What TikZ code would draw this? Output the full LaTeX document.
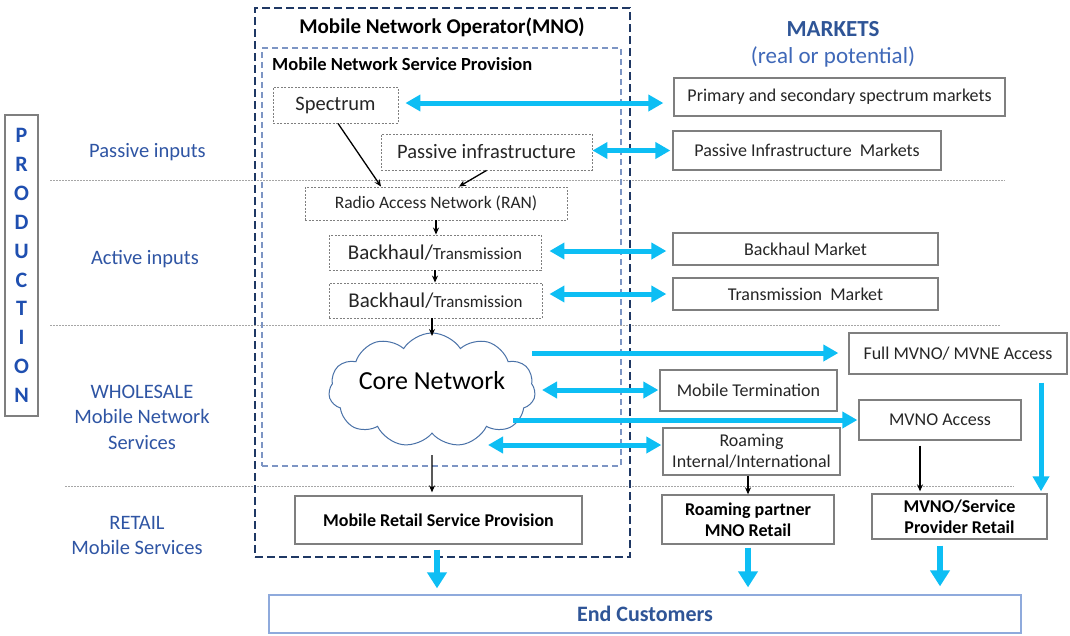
\documentclass[tikz,border=0pt]{standalone}
\usepackage{fontspec}
\setmainfont{Carlito}
\usetikzlibrary{arrows.meta,shapes.symbols,calc}
\definecolor{cy}{HTML}{0DBEF4}
\definecolor{navy}{HTML}{1F3864}
\definecolor{lblue}{HTML}{7D95C4}
\definecolor{lbl}{HTML}{2F55A4}
\definecolor{mk}{HTML}{2F5597}
\definecolor{mk2}{HTML}{3F68B8}
\definecolor{bx}{HTML}{7F7F7F}
\definecolor{txt}{HTML}{262626}
\definecolor{prodc}{HTML}{1F4FB0}
\definecolor{cloudc}{HTML}{4A72A8}
\definecolor{endb}{HTML}{8FAADC}
\begin{document}
\begin{tikzpicture}[x=1pt,y=-1pt,
  mbox/.style={draw=bx, line width=1.3pt, fill=white, inner sep=0pt, text=txt,
    align=center, font=\fontsize{18}{21}\selectfont},
  bbox/.style={mbox, font=\fontsize{18}{21.5}\selectfont\bfseries, text=black},
  dbox/.style={draw=bx, line width=0.9pt, dash pattern=on 2pt off 1.5pt, fill=white,
    inner sep=0pt, text=txt, align=center},
  cya/.style={draw=cy, line width=5pt, -{Triangle[width=16pt,length=15pt]}},
  cyab/.style={draw=cy, line width=5pt, {Triangle[width=16pt,length=15pt]}-{Triangle[width=16pt,length=15pt]}},
  cyd/.style={draw=cy, line width=6.5pt, -{Triangle[width=19pt,length=16pt]}},
  blk/.style={draw=black, line width=1.3pt, -{Stealth[length=7pt,width=6pt]}},
  sepline/.style={draw=gray!70, line width=0.8pt, dash pattern=on 1.5pt off 1.5pt},
  lab/.style={text=lbl, align=center, font=\fontsize{20.5}{25.5}\selectfont},
]
\useasboundingbox[fill=white] (0,0) rectangle (1070,635);

% separator lines
\coordinate (s1a) at (50,180); \coordinate (s1b) at (1005,180);
\coordinate (s2a) at (50,325); \coordinate (s2b) at (1000,325);
\coordinate (s3a) at (65,486); \coordinate (s3b) at (1014,486);
\draw[sepline] (s1a) -- (s1b);
\draw[sepline] (s2a) -- (s2b);
\draw[sepline] (s3a) -- (s3b);

% production column
\node[draw=bx, line width=1.3pt, minimum width=33pt, minimum height=301pt, inner sep=0pt,
  align=center, text=prodc, font=\fontsize{22}{28.9}\selectfont\bfseries] (prod) at (21.5,265.5)
  {P\\R\\O\\D\\U\\C\\T\\I\\O\\N};
\node[lab] (lpass) at (147.5,152) {Passive inputs};
\node[lab] (lact) at (145,259) {Active inputs};
\node[lab] (lwh) at (142,417) {WHOLESALE\\Mobile Network\\Services};
\node[lab] (lret) at (137,535.5) {RETAIL\\Mobile Services};

% MNO frames
\node[draw=navy, line width=2.6pt, dash pattern=on 8pt off 4pt, minimum width=375pt,
  minimum height=549pt, inner sep=0pt] (mno) at (442.5,282.5) {};
\node[draw=lblue, line width=1.8pt, dash pattern=on 6pt off 4pt, minimum width=359pt,
  minimum height=418pt, inner sep=0pt] (msp) at (441.5,257) {};
\node[font=\fontsize{21}{25}\selectfont\bfseries] (mnot) at (442,27) {Mobile Network Operator(MNO)};
\node[anchor=west, inner sep=0pt, font=\fontsize{18.5}{21}\selectfont\bfseries] (mspt) at (272,64)
  {Mobile Network Service Provision};

% MNO internal nodes
\node[dbox, minimum width=125pt, minimum height=36pt, font=\fontsize{20.5}{24}\selectfont] (spec) at (335.5,105) {Spectrum};
\node[dbox, minimum width=211pt, minimum height=36pt, font=\fontsize{20.5}{24}\selectfont] (pinf) at (486.5,152) {Passive infrastructure};
\node[dbox, minimum width=262pt, minimum height=33pt, font=\fontsize{17.5}{21}\selectfont] (ran) at (436,203.5) {Radio Access Network (RAN)};
\node[dbox, minimum width=212pt, minimum height=35pt, font=\fontsize{17}{21}\selectfont] (bh1) at (435,252.5)
  {{\fontsize{21}{24}\selectfont Backhaul/}Transmission};
\node[dbox, minimum width=213pt, minimum height=35pt, font=\fontsize{17}{21}\selectfont] (bh2) at (435.5,300.5)
  {{\fontsize{21}{24}\selectfont Backhaul/}Transmission};
\node[cloud, cloud puffs=11, cloud puff arc=115, cloud ignores aspect, draw=cloudc, line width=1pt, fill=white,
  minimum width=198pt, minimum height=114pt, inner sep=0pt, text=black, text depth=19pt,
  font=\fontsize{26}{30}\selectfont] (core) at (432,390) {Core Network};
\node[bbox, minimum width=287pt, minimum height=48pt] (retail) at (438.5,520) {Mobile Retail Service Provision};

% markets
\node[font=\fontsize{23}{27}\selectfont\bfseries, text=mk] (mkt) at (833,29) {MARKETS};
\node[font=\fontsize{23}{27}\selectfont, text=mk2] (mkt2) at (833,57) {(real or potential)};
\node[mbox, minimum width=331pt, minimum height=38pt] (prim) at (839.5,97) {Primary and secondary spectrum markets};
\node[mbox, minimum width=268pt, minimum height=39pt] (pim) at (807,150.5) {Passive Infrastructure\ \ Markets};
\node[mbox, minimum width=265pt, minimum height=32pt] (bhm) at (805.5,249) {Backhaul Market};
\node[mbox, minimum width=265pt, minimum height=32pt] (trm) at (805.5,294) {Transmission\ \ Market};
\node[mbox, minimum width=218pt, minimum height=41pt] (fmv) at (958,353.5) {Full MVNO/ MVNE Access};
\node[mbox, minimum width=177pt, minimum height=41pt] (mt) at (748.5,390.5) {Mobile Termination};
\node[mbox, minimum width=162pt, minimum height=40pt] (mvno) at (940,420) {MVNO Access};
\node[mbox, minimum width=177pt, minimum height=47pt] (roam) at (751.5,451.5) {Roaming\\Internal/International};
\node[bbox, minimum width=172pt, minimum height=49pt] (rpm) at (748,519.5) {Roaming partner\\MNO Retail};
\node[bbox, minimum width=175pt, minimum height=45pt] (mspr) at (959.5,516.5) {MVNO/Service\\Provider Retail};
\node[draw=endb, line width=1.3pt, fill=white, minimum width=752pt, minimum height=38pt, inner sep=0pt,
  text=mk, font=\fontsize{22}{26}\selectfont\bfseries] (endc) at (645,614) {End Customers};

% black arrows
\draw[blk] ($(spec.south)+(2.5,0)$) -- ($(ran.north)+(-55,0)$);
\draw[blk] (pinf.south) -- ($(ran.north)+(23,0)$);
\draw[blk] (ran.south) -- (ran.south |- bh1.north);
\draw[blk] (bh1.south) -- (bh1.south |- bh2.north);
\draw[blk] (core.center |- bh2.south) -- ($(core.center)+(0,-54)$);
\draw[blk] ($(core.center)+(0,65)$) -- ($(core.south |- retail.north)+(0,-3)$);
\draw[blk] (rpm.north |- roam.south) -- (rpm.north);
\draw[blk] ($(mvno.south)+(-20,5)$) -- ($(mvno.south |- mspr.north)+(-20,-2)$);

% cyan arrows
\draw[cyab] ($(spec.east)+(7,-2)$) -- ($(prim.west)+(-10,6)$);
\draw[cyab] ($(pinf.east)+(0,-1.5)$) -- ($(pim.west)+(-2,0)$);
\draw[cyab] ($(bh1.east)+(8,-1.5)$) -- ($(bhm.west)+(-6,2)$);
\draw[cyab] ($(bh2.east)+(7,-6.5)$) -- ($(trm.west)+(-6,0)$);
\draw[cya] ($(core.center)+(100,-37)$) -- ($(fmv.west)+(-10,-0.5)$);
\draw[cyab] ($(core.center)+(110,0)$) -- ($(mt.west)+(-1,-0.5)$);
\draw[cya] ($(core.center)+(81,30)$) -- ($(mvno.west)+(-1,0)$);
\draw[cyab] ($(core.center)+(56,55)$) -- ($(roam.west)+(-1,-6.5)$);
\draw[cya] ($(fmv.south)+(83,8)$) -- ($(mspr.north)+(81.5,-2)$);
\draw[cyd] ($(retail.south)+(-1.5,5)$) -- ($(retail.south |- endc.north)+(-1.5,-6)$);
\draw[cyd] ($(rpm.south)+(0,3)$) -- ($(rpm.south |- endc.north)+(0,-7)$);
\draw[cyd] ($(mspr.south)+(-19.5,6)$) -- ($(mspr.south |- endc.north)+(-19.5,-8)$);
\end{tikzpicture}
\end{document}
